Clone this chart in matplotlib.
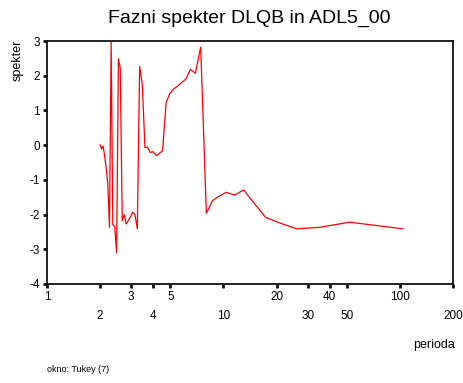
import matplotlib
matplotlib.use("Agg")
import matplotlib.pyplot as plt
from matplotlib.ticker import FixedLocator, NullLocator

plt.rcParams['font.family'] = ['Liberation Sans', 'DejaVu Sans']

# Fourier periods (n=104 / k, k=1..52)
periods = [104.0, 52.0, 34.67, 26.0, 20.8, 17.33, 14.86, 13.0, 11.56, 10.4,
           9.45, 8.67, 8.0, 7.43, 6.93, 6.5, 6.12, 5.78, 5.47, 5.2,
           4.95, 4.73, 4.52, 4.33, 4.16, 4.0, 3.85, 3.71, 3.59, 3.47,
           3.35, 3.25, 3.15, 3.06, 2.97, 2.89, 2.81, 2.74, 2.67, 2.6,
           2.54, 2.48, 2.42, 2.36, 2.31, 2.26, 2.21, 2.17, 2.12, 2.08,
           2.04, 2.0]
phase = [-2.41, -2.22, -2.37, -2.41, -2.24, -2.08, -1.66, -1.29, -1.44, -1.36,
         -1.47, -1.60, -1.96, 2.82, 2.07, 2.18, 1.90, 1.80, 1.69, 1.61,
         1.47, 1.22, -0.16, -0.24, -0.30, -0.19, -0.21, -0.06, -0.07, 1.73,
         2.27, -2.41, -2.00, -1.93, -2.07, -2.17, -2.27, -2.00, -2.18, 2.22,
         2.49, -3.10, -2.34, -2.29, 2.97, -2.37, -1.10, -0.70, -0.30, -0.03,
         -0.11, 0.01]

xticks = [1, 2, 3, 4, 5, 10, 20, 30, 40, 50, 100, 200]
xlabels_row1 = ['1', '3', '5', '20', '40', '100']
yticks = [-4, -3, -2, -1, 0, 1, 2, 3]

fig = plt.figure(figsize=(4.64, 3.83), dpi=100)
ax = fig.add_axes([47/464, 1-284/383, 406/464, 243/383])
ax.plot(periods, phase, color='#ff0000', linewidth=0.9)
ax.set_xscale('log')
ax.set_xlim(1, 200)
ax.set_ylim(-4, 3)

ax.xaxis.set_major_locator(FixedLocator(xticks))
ax.xaxis.set_minor_locator(NullLocator())
labels = [str(t) if str(t) in xlabels_row1 else '\n' + str(t) for t in xticks]
ax.set_xticklabels(labels, fontsize=8.5, linespacing=1.75)
ax.set_yticks(yticks)
ax.set_yticklabels([str(t) for t in yticks], fontsize=8.5)
ax.tick_params(axis='both', direction='out', length=3, width=2, color='#111111', pad=2)

for s in ax.spines.values():
    s.set_linewidth(1.3)
    s.set_color('#111111')

fig.text(249/464, 1-18/383, 'Fazni spekter DLQB in ADL5_00', ha='center', va='center', fontsize=14)
fig.text(18/464, 1-40/383, 'spekter', rotation=90, ha='center', va='top', fontsize=9)
fig.text(455/464, 1-345/383, 'perioda', ha='right', va='center', fontsize=9)
fig.text(47/464, 1-370/383, 'okno: Tukey (7)', ha='left', va='center', fontsize=6.5)

fig.savefig('out.png', dpi=100)
